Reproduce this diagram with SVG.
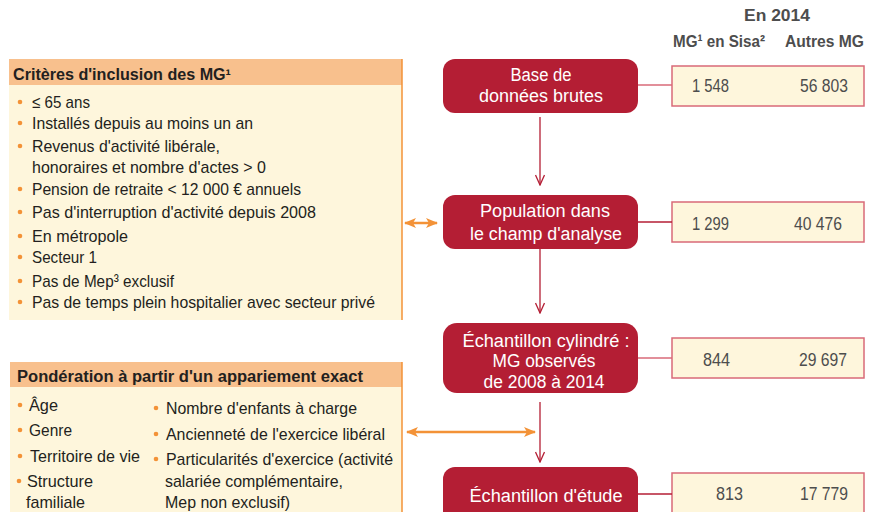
<svg xmlns="http://www.w3.org/2000/svg" width="879" height="512" viewBox="0 0 879 512">
<style>
text{font-family:"Liberation Sans",Arial,sans-serif;}
.hd{font-size:16px;font-weight:bold;fill:#231f20;}
.bd{font-size:17px;fill:#231f20;}
.bx{font-size:18px;fill:#ffffff;text-anchor:middle;}
.num{font-size:18px;fill:#4d4d4d;}
.col{font-size:17px;font-weight:bold;fill:#4d4d4d;}
.dot{fill:#f39237;}
.rbox{fill:#b41e34;}
.nbox{fill:#fef6dc;stroke:#d96a78;stroke-width:1.5;}
.panel{fill:#fef6dc;}
.phead{fill:#f8c08d;}
.pedge{stroke:#f39237;stroke-width:1.5;fill:none;}
.vline{stroke:#b41e34;stroke-width:1.3;fill:none;}
.hline{stroke:#d96a78;stroke-width:1.5;fill:none;}
.oline{stroke:#f39237;stroke-width:2.5;fill:none;}
</style>
<defs>
<marker id="vh" viewBox="0 0 12 10" refX="11" refY="5" markerWidth="12" markerHeight="10" markerUnits="userSpaceOnUse" orient="auto">
<path d="M1,0.5 L11,5 L1,9.5" fill="none" stroke="#b41e34" stroke-width="1.3"/>
</marker>
<marker id="oh" viewBox="0 0 12 10" refX="11" refY="5" markerWidth="12" markerHeight="10" markerUnits="userSpaceOnUse" orient="auto-start-reverse">
<path d="M0,0 L12,5 L0,10 L3,5 Z" fill="#f39237"/>
</marker>
</defs>

<g id="criteres">
<rect class="panel" x="9" y="59" width="393" height="261"/>
<rect class="phead" x="9" y="59" width="393" height="26"/>
<line class="pedge" x1="402" y1="59" x2="402" y2="320"/>
<text class="hd" x="13" y="80" textLength="218" lengthAdjust="spacingAndGlyphs">Critères d'inclusion des MG¹</text>
<circle class="dot" cx="20" cy="102" r="2.3"/><text class="bd" x="32" y="108" textLength="58" lengthAdjust="spacingAndGlyphs">≤ 65 ans</text>
<circle class="dot" cx="20" cy="123" r="2.3"/><text class="bd" x="32" y="129" textLength="221" lengthAdjust="spacingAndGlyphs">Installés depuis au moins un an</text>
<circle class="dot" cx="20" cy="146" r="2.3"/><text class="bd" x="32" y="152" textLength="188" lengthAdjust="spacingAndGlyphs">Revenus d'activité libérale,</text>
<text class="bd" x="32" y="173" textLength="234" lengthAdjust="spacingAndGlyphs">honoraires et nombre d'actes &gt; 0</text>
<circle class="dot" cx="20" cy="189" r="2.3"/><text class="bd" x="32" y="195" textLength="269" lengthAdjust="spacingAndGlyphs">Pension de retraite &lt; 12 000 € annuels</text>
<circle class="dot" cx="20" cy="212" r="2.3"/><text class="bd" x="32" y="218" textLength="284" lengthAdjust="spacingAndGlyphs">Pas d'interruption d'activité depuis 2008</text>
<circle class="dot" cx="20" cy="236" r="2.3"/><text class="bd" x="32" y="242" textLength="96" lengthAdjust="spacingAndGlyphs">En métropole</text>
<circle class="dot" cx="20" cy="257" r="2.3"/><text class="bd" x="32" y="263" textLength="65" lengthAdjust="spacingAndGlyphs">Secteur 1</text>
<circle class="dot" cx="20" cy="281" r="2.3"/><text class="bd" x="32" y="287" textLength="142" lengthAdjust="spacingAndGlyphs">Pas de Mep³ exclusif</text>
<circle class="dot" cx="20" cy="302" r="2.3"/><text class="bd" x="32" y="308" textLength="343" lengthAdjust="spacingAndGlyphs">Pas de temps plein hospitalier avec secteur privé</text>
</g>

<g id="ponderation">
<rect class="panel" x="10" y="362" width="392" height="150"/>
<rect class="phead" x="10" y="362" width="392" height="25"/>
<line class="pedge" x1="402" y1="362" x2="402" y2="512"/>
<text class="hd" x="17" y="382" font-size="17" textLength="346" lengthAdjust="spacingAndGlyphs">Pondération à partir d'un appariement exact</text>
<circle class="dot" cx="20" cy="405" r="2.3"/><text class="bd" x="29" y="411" textLength="29" lengthAdjust="spacingAndGlyphs">Âge</text>
<circle class="dot" cx="20" cy="430" r="2.3"/><text class="bd" x="29" y="436" textLength="43" lengthAdjust="spacingAndGlyphs">Genre</text>
<circle class="dot" cx="20" cy="456" r="2.3"/><text class="bd" x="30" y="462" textLength="110" lengthAdjust="spacingAndGlyphs">Territoire de vie</text>
<circle class="dot" cx="19" cy="481" r="2.3"/><text class="bd" x="27" y="487" textLength="66" lengthAdjust="spacingAndGlyphs">Structure</text>
<text class="bd" x="26" y="508" textLength="59" lengthAdjust="spacingAndGlyphs">familiale</text>
<circle class="dot" cx="156" cy="408" r="2.3"/><text class="bd" x="166" y="414" textLength="191" lengthAdjust="spacingAndGlyphs">Nombre d'enfants à charge</text>
<circle class="dot" cx="156" cy="434" r="2.3"/><text class="bd" x="166" y="440" textLength="219" lengthAdjust="spacingAndGlyphs">Ancienneté de l'exercice libéral</text>
<circle class="dot" cx="156" cy="459" r="2.3"/><text class="bd" x="166" y="465" textLength="227" lengthAdjust="spacingAndGlyphs">Particularités d'exercice (activité</text>
<text class="bd" x="165" y="487" textLength="178" lengthAdjust="spacingAndGlyphs">salariée complémentaire,</text>
<text class="bd" x="165" y="508" textLength="125" lengthAdjust="spacingAndGlyphs">Mep non exclusif)</text>
</g>

<g id="entetes">
<text class="col" x="777" y="21" font-size="18" text-anchor="middle" textLength="66" lengthAdjust="spacingAndGlyphs">En 2014</text>
<text class="col" x="673" y="47" textLength="92" lengthAdjust="spacingAndGlyphs">MG¹ en Sisa²</text>
<text class="col" x="785" y="47" textLength="79" lengthAdjust="spacingAndGlyphs">Autres MG</text>
</g>

<g id="base">
<rect class="rbox" x="443" y="59" width="195" height="54" rx="12"/>
<text class="bx" x="541" y="81" textLength="61" lengthAdjust="spacingAndGlyphs">Base de</text>
<text class="bx" x="541" y="102" textLength="124" lengthAdjust="spacingAndGlyphs">données brutes</text>
</g>
<g id="population">
<rect class="rbox" x="443" y="195" width="195" height="54" rx="12"/>
<text class="bx" x="545" y="217" textLength="130" lengthAdjust="spacingAndGlyphs">Population dans</text>
<text class="bx" x="546" y="240" textLength="152" lengthAdjust="spacingAndGlyphs">le champ d'analyse</text>
</g>
<g id="cylindre">
<rect class="rbox" x="443" y="323" width="195" height="70" rx="14"/>
<text class="bx" x="546" y="347" textLength="167" lengthAdjust="spacingAndGlyphs">Échantillon cylindré :</text>
<text class="bx" x="544" y="367" textLength="103" lengthAdjust="spacingAndGlyphs">MG observés</text>
<text class="bx" x="544" y="388" textLength="121" lengthAdjust="spacingAndGlyphs">de 2008 à 2014</text>
</g>
<g id="etude">
<rect class="rbox" x="443" y="467" width="195" height="60" rx="12"/>
<text class="bx" x="546" y="502" textLength="153" lengthAdjust="spacingAndGlyphs">Échantillon d'étude</text>
</g>

<g id="n-base">
<rect class="nbox" x="672" y="66" width="192" height="40"/>
<text class="num" x="692" y="92" textLength="37" lengthAdjust="spacingAndGlyphs">1 548</text>
<text class="num" x="848" y="92" text-anchor="end" textLength="48" lengthAdjust="spacingAndGlyphs">56 803</text>
</g>
<g id="n-population">
<rect class="nbox" x="672" y="202" width="192" height="40"/>
<text class="num" x="692" y="230" textLength="37" lengthAdjust="spacingAndGlyphs">1 299</text>
<text class="num" x="842" y="230" text-anchor="end" textLength="48" lengthAdjust="spacingAndGlyphs">40 476</text>
</g>
<g id="n-cylindre">
<rect class="nbox" x="672" y="338" width="192" height="40"/>
<text class="num" x="703" y="366" textLength="27" lengthAdjust="spacingAndGlyphs">844</text>
<text class="num" x="847" y="366" text-anchor="end" textLength="48" lengthAdjust="spacingAndGlyphs">29 697</text>
</g>
<g id="n-etude">
<rect class="nbox" x="672" y="473" width="192" height="50"/>
<text class="num" x="716" y="500" textLength="27" lengthAdjust="spacingAndGlyphs">813</text>
<text class="num" x="848" y="500" text-anchor="end" textLength="48" lengthAdjust="spacingAndGlyphs">17 779</text>
</g>

<g id="connecteurs">
<line class="vline" x1="540" y1="117" x2="540" y2="185" marker-end="url(#vh)"/>
<line class="vline" x1="540" y1="249" x2="540" y2="313" marker-end="url(#vh)"/>
<line class="vline" x1="540" y1="402" x2="540" y2="462" marker-end="url(#vh)"/>
<line class="hline" x1="638" y1="85" x2="672" y2="85"/>
<line class="vline" x1="638" y1="222" x2="672" y2="222"/>
<line class="hline" x1="638" y1="358" x2="672" y2="358"/>
<line class="vline" x1="638" y1="494" x2="672" y2="494"/>
<line class="oline" x1="405" y1="223" x2="437" y2="223" marker-start="url(#oh)" marker-end="url(#oh)"/>
<line class="oline" x1="407" y1="432" x2="535" y2="432" marker-start="url(#oh)" marker-end="url(#oh)"/>
</g>
</svg>
